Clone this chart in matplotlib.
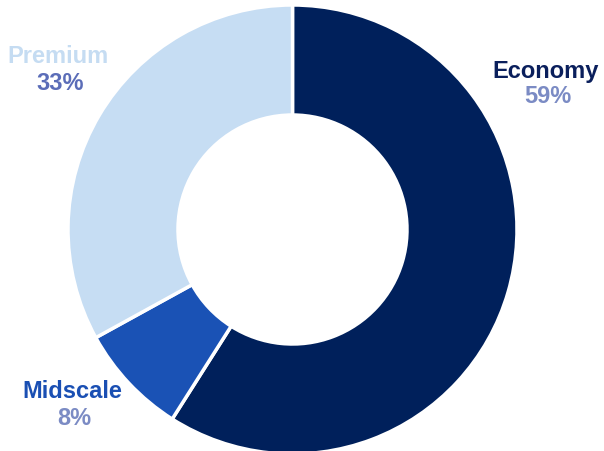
import matplotlib.pyplot as plt

# Segment data
segments = ['Economy', 'Midscale', 'Premium']
shares = [59, 8, 33]
slice_colors = ['#00205B', '#1A52B5', '#C6DDF3']
name_colors = ['#0A1F5C', '#1A4FB3', '#C5DCF2']
pct_colors = ['#7B8BC4', '#7B8BC4', '#5B6DB8']
# label anchor (x, baseline of name, baseline of percent), in pixels from top-left
label_pos = [(546, 78, 103), (72, 398, 425), (58, 63, 90)]

W, H = 604, 452
fig = plt.figure(figsize=(W / 100, H / 100), dpi=100)
ax = fig.add_axes([0, 0, 1, 1])

cx, cy, r = 292.5, H - 230.5, 224.5
ax.pie(shares, colors=slice_colors, startangle=90, counterclock=False,
       center=(cx, cy), radius=r, frame=True,
       wedgeprops=dict(width=110, edgecolor='white', linewidth=2.5))
ax.set_xlim(0, W)
ax.set_ylim(0, H)
ax.set_aspect('equal')
ax.axis('off')

for seg, val, nc, pc, (x, y1, y2) in zip(segments, shares, name_colors, pct_colors, label_pos):
    ax.text(x, H - y1, seg, color=nc, fontsize=17, fontweight='bold',
            family='Liberation Sans', ha='center', va='baseline')
    ax.text(x + 2, H - y2, f'{val}%', color=pc, fontsize=17, fontweight='bold',
            family='Liberation Sans', ha='center', va='baseline')

fig.savefig('out.png', dpi=100)
